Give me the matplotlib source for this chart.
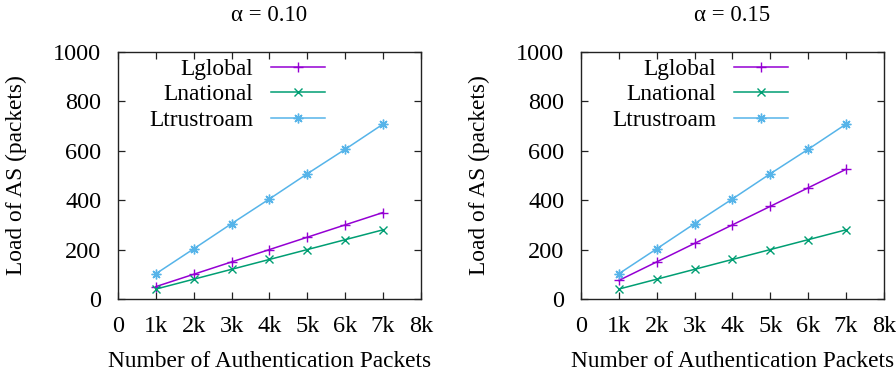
import matplotlib
matplotlib.use("Agg")
import matplotlib.pyplot as plt

plt.rcParams['font.family'] = ['Liberation Serif', 'DejaVu Serif']

# Data
packets = [1000, 2000, 3000, 4000, 5000, 6000, 7000]
x_ticks = [0, 1000, 2000, 3000, 4000, 5000, 6000, 7000, 8000]
x_tick_labels = ['0', '1k', '2k', '3k', '4k', '5k', '6k', '7k', '8k']
y_ticks = [0, 200, 400, 600, 800, 1000]

titles = ['α = 0.10', 'α = 0.15']
lglobal = [
    [50, 100, 150, 200, 250, 300, 350],
    [75, 150, 225, 300, 375, 450, 525],
]
lnational = [
    [40, 80, 120, 160, 200, 240, 280],
    [40, 80, 120, 160, 200, 240, 280],
]
ltrustroam = [
    [102, 203, 305, 405, 507, 606, 708],
    [102, 203, 305, 405, 507, 606, 708],
]

series_names = ['Lglobal', 'Lnational', 'Ltrustroam']
colors = ['#9400d3', '#009e73', '#56b4e9']
markers = ['+', 'x', (8, 2, 0)]
marker_sizes = [6.5, 5.5, 7]

fig = plt.figure(figsize=(8.96, 3.77), dpi=100)
lefts = [0.1317, 0.6484]
ax_w, ax_h = 0.338, 0.655
for i in range(2):
    ax = fig.add_axes([lefts[i], 0.207, ax_w, ax_h])
    for vals, name, c, m, ms in zip([lglobal[i], lnational[i], ltrustroam[i]],
                                    series_names, colors, markers, marker_sizes):
        ax.plot(packets, vals, color=c, marker=m, markersize=ms, lw=1.1,
                markeredgewidth=1.0, label=name)
    ax.set_xlim(0, 8000)
    ax.set_ylim(0, 1000)
    ax.set_xticks(x_ticks)
    ax.set_xticklabels(x_tick_labels)
    ax.set_yticks(y_ticks)
    ax.tick_params(direction='in', top=True, right=True, length=5,
                   width=0.9, labelsize=17.5, pad=12, colors='#222222',
                   labelcolor='black')
    for s in ax.spines.values():
        s.set_linewidth(1.0)
        s.set_color('#222222')
    ax.set_title(titles[i], fontsize=16.5, y=(299 - 15) / 247, pad=0,
                 va='center')
    ax.set_xlabel('Number of Authentication Packets', fontsize=16.8)
    ax.xaxis.set_label_coords(0.5, -(362 - 299) / 247)
    ax.xaxis.label.set_verticalalignment('center')
    ax.set_ylabel('Load of AS (packets)', fontsize=16.8)
    ax.yaxis.set_label_coords(-102 / 303, 0.5)
    ax.yaxis.label.set_verticalalignment('center')
    ax.legend(loc='upper right', bbox_to_anchor=(0.683, 0.974), frameon=False,
              markerfirst=False, fontsize=16.8, handlelength=2.3,
              handletextpad=0.76, labelspacing=0.18, borderpad=0,
              borderaxespad=0)

fig.savefig('out.png', dpi=100)
